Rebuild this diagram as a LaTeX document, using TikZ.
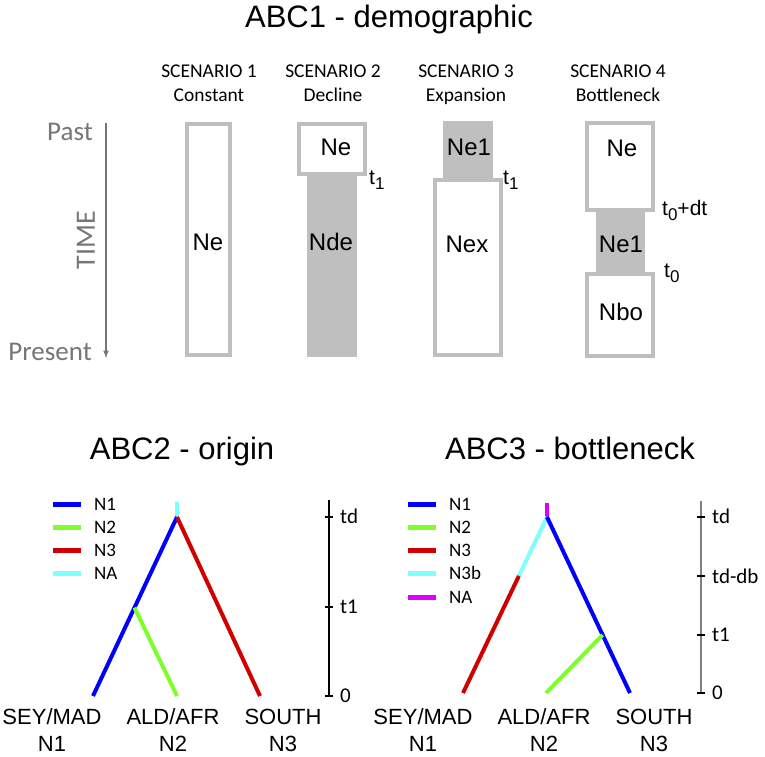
\documentclass[tikz,border=0pt]{standalone}
\usepackage{fontspec}
\setmainfont{Liberation Sans}
\newfontfamily\calib{Carlito}
\usetikzlibrary{calc}

\definecolor{boxgray}{RGB}{191,191,191}
\definecolor{txtgray}{RGB}{118,118,118}
\definecolor{nblue}{RGB}{0,0,255}
\definecolor{ngreen}{RGB}{127,255,42}
\definecolor{nred}{RGB}{208,0,0}
\definecolor{ncyan}{RGB}{128,255,255}
\definecolor{nmag}{RGB}{220,0,255}

\newcommand{\fsz}[1]{\fontsize{#1}{#1}\selectfont}
\newcommand{\tsub}[1]{\raisebox{-5pt}{\fsz{17}#1}}

\tikzset{
	popline/.style={draw=boxgray,line width=4pt,fill=white},
	popfill/.style={fill=boxgray},
	poplabel/.style={anchor=base,inner sep=0pt,font=\fsz{24}},
	tlabel/.style={anchor=base west,inner sep=0pt,font=\fsz{21}},
	scenlabel/.style={anchor=base,inner sep=0pt,font=\calib\fsz{19.5}},
	branch/.style={line width=4pt},
	legline/.style={line width=5pt},
	legtext/.style={anchor=base west,inner sep=0pt,font=\calib\fsz{19}},
	axtick/.style={line width=2.5pt},
	axlabel/.style={anchor=west,inner sep=0pt,font=\calib\fsz{21}},
	leaflabel/.style={anchor=base,inner sep=0pt,font=\fsz{22}},
	paneltitle/.style={anchor=base,inner sep=0pt,font=\fsz{31}}
}

\begin{document}
\begin{tikzpicture}[x=1pt,y=-1pt]
	\fill[white] (0,0) rectangle (765,756);
	\useasboundingbox (0,0) rectangle (765,756);

	% ABC1
	\node[paneltitle] (titleA) at (389,27) {ABC1 - demographic};

	\node[scenlabel] (scenA) at (209,77) {SCENARIO 1};
	\node[scenlabel] (scenAb) at (209,101) {Constant};
	\node[scenlabel] (scenB) at (333,77) {SCENARIO 2};
	\node[scenlabel] (scenBb) at (333,101) {Decline};
	\node[scenlabel] (scenC) at (466,77) {SCENARIO 3};
	\node[scenlabel] (scenCb) at (466,101) {Expansion};
	\node[scenlabel] (scenD) at (618,77) {SCENARIO 4};
	\node[scenlabel] (scenDb) at (618,101) {Bottleneck};

	% time axis
	\coordinate (past) at (106,123);
	\coordinate (present) at (106,358);
	\draw[-latex,line width=1.5pt,draw=txtgray] (past) -- (present);
	\node[anchor=base east,inner sep=0pt,text=txtgray,font=\calib\fsz{27}] (pastlbl) at (93,140) {Past};
	\node[anchor=base east,inner sep=0pt,text=txtgray,font=\calib\fsz{27}] (presentlbl) at (92,360) {Present};
	\node[rotate=90,inner sep=0pt,text=txtgray,font=\calib\fsz{28}] (timelbl) at (86,240) {TIME};

	% scenario 1
	\draw[popline] (187,124) rectangle (230,355);
	\node[poplabel] (neA) at (208,250) {Ne};

	% scenario 2
	\fill[popfill] (307,176) rectangle (357,357);
	\draw[popline] (299,124) rectangle (365,174);
	\node[poplabel] (neB) at (336,155) {Ne};
	\node[poplabel] (ndeB) at (331,250) {Nde};
	\node[tlabel] (tB) at (369,184) {t\tsub{1}};

	% scenario 3
	\fill[popfill] (443,121) rectangle (493,178);
	\draw[popline] (435,180) rectangle (501,355);
	\node[poplabel] (ne1C) at (469,155) {Ne1};
	\node[poplabel] (nexC) at (467,252) {Nex};
	\node[tlabel] (tC) at (503,184) {t\tsub{1}};

	% scenario 4
	\fill[popfill] (596,212) rectangle (645,272);
	\draw[popline] (587,123) rectangle (653,210);
	\draw[popline] (587,274) rectangle (653,356);
	\node[poplabel] (neD) at (622,156) {Ne};
	\node[poplabel] (ne1D) at (621,252) {Ne1};
	\node[poplabel] (nboD) at (621,320) {Nbo};
	\node[tlabel] (tdtD) at (662,215) {t\tsub{0}+dt};
	\node[tlabel] (t0D) at (664,277) {t\tsub{0}};

	% ABC2
	\node[paneltitle] (titleB) at (182,459) {ABC2 - origin};

	\draw[legline,nblue] (53,504) -- (81,504);
	\draw[legline,ngreen] (53,527) -- (81,527);
	\draw[legline,nred] (53,550) -- (81,550);
	\draw[legline,ncyan] (53,573) -- (81,573);
	\node[legtext] (legBa) at (94,510) {N1};
	\node[legtext] (legBb) at (94,533) {N2};
	\node[legtext] (legBc) at (94,556) {N3};
	\node[legtext] (legBd) at (94,579) {NA};

	\coordinate (topB) at (177,502);
	\coordinate (rootB) at (177,517);
	\coordinate (leafB1) at (93,696);
	\coordinate (leafB2) at (177,696);
	\coordinate (leafB3) at (260,696);
	\coordinate (splitB) at ($(rootB)!0.506!(leafB1)$);
	\draw[branch,ncyan] (topB) -- (rootB);
	\draw[branch,nblue] (rootB) -- (leafB1);
	\draw[branch,ngreen] (splitB) -- (leafB2);
	\draw[branch,nred] (rootB) -- (leafB3);

	\draw[line width=1.5pt] (329,500) -- (329,697);
	\draw[axtick] (325,517) -- (333,517);
	\draw[axtick] (325,607) -- (333,607);
	\draw[axtick] (325,696) -- (333,696);
	\node[axlabel] (tdB) at (340,516) {td};
	\node[axlabel] (t1B) at (340,607) {t1};
	\node[axlabel] (zeroB) at (340,696) {0};

	\node[leaflabel] (popB1) at (52,724) {SEY/MAD};
	\node[leaflabel] (popB2) at (173,724) {ALD/AFR};
	\node[leaflabel] (popB3) at (283,724) {SOUTH};
	\node[leaflabel] (nB1) at (52,751) {N1};
	\node[leaflabel] (nB2) at (173,751) {N2};
	\node[leaflabel] (nB3) at (283,751) {N3};

	% ABC3
	\node[paneltitle] (titleC) at (570,459) {ABC3 - bottleneck};

	\draw[legline,nblue] (408,504) -- (436,504);
	\draw[legline,ngreen] (408,527) -- (436,527);
	\draw[legline,nred] (408,550) -- (436,550);
	\draw[legline,ncyan] (408,573) -- (436,573);
	\draw[legline,nmag] (408,597) -- (436,597);
	\node[legtext] (legCa) at (449,510) {N1};
	\node[legtext] (legCb) at (449,533) {N2};
	\node[legtext] (legCc) at (449,556) {N3};
	\node[legtext] (legCd) at (449,579) {N3b};
	\node[legtext] (legCe) at (449,603) {NA};

	\coordinate (topC) at (547,503);
	\coordinate (rootC) at (547,517);
	\coordinate (leafC1) at (463,693);
	\coordinate (leafC2) at (546,693);
	\coordinate (leafC3) at (630,693);
	\coordinate (bottC) at ($(rootC)!0.335!(leafC1)$);
	\coordinate (splitC) at ($(rootC)!0.67!(leafC3)$);
	\draw[branch,nmag] (topC) -- (rootC);
	\draw[branch,ncyan] (rootC) -- (bottC);
	\draw[branch,nred] (bottC) -- (leafC1);
	\draw[branch,nblue] (rootC) -- (leafC3);
	\draw[branch,ngreen] (leafC2) -- (splitC);

	\draw[line width=1.5pt,draw=gray] (701,501) -- (701,694);
	\draw[axtick] (697,517) -- (705,517);
	\draw[axtick] (697,576) -- (705,576);
	\draw[axtick] (697,635) -- (705,635);
	\draw[axtick] (697,693) -- (705,693);
	\node[axlabel] (tdC) at (712,516) {td};
	\node[axlabel] (tdbC) at (712,576) {td-db};
	\node[axlabel] (t1C) at (712,635) {t1};
	\node[axlabel] (zeroC) at (712,693) {0};

	\node[leaflabel] (popC1) at (423,724) {SEY/MAD};
	\node[leaflabel] (popC2) at (544,724) {ALD/AFR};
	\node[leaflabel] (popC3) at (654,724) {SOUTH};
	\node[leaflabel] (nC1) at (423,751) {N1};
	\node[leaflabel] (nC2) at (544,751) {N2};
	\node[leaflabel] (nC3) at (654,751) {N3};
\end{tikzpicture}
\end{document}
